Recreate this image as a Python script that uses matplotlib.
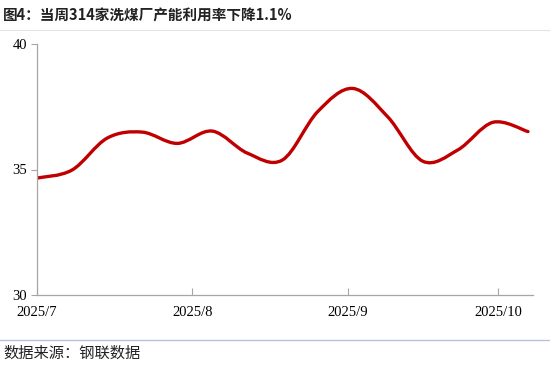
import datetime as dt

import matplotlib.dates as mdates
import numpy as np
from matplotlib import pyplot as plt
from matplotlib.patches import PathPatch
from matplotlib.path import Path
from matplotlib.ticker import FuncFormatter

title = "图4：当周314家洗煤厂产能利用率下降1.1%"
source = "数据来源：钢联数据"

start_date = dt.date(2025, 7, 1)
week_dates = [start_date + dt.timedelta(days=7 * i) for i in range(15)]
utilization = [34.66, 34.98, 36.25, 36.49, 36.04, 36.53, 35.65, 35.38,
               37.30, 38.23, 37.10, 35.33, 35.78, 36.88, 36.51]

y_ticks = [30, 35, 40]
line_color = "#c00000"
axis_color = "#a6a6a6"


def smooth_path(xs, ys):
    # Excel-style smoothed line: cubic Bezier segments through every point
    pts = np.column_stack([xs, ys])
    padded = np.vstack([pts[0], pts, pts[-1]])
    verts = [pts[0]]
    codes = [Path.MOVETO]
    for i in range(1, len(padded) - 2):
        p0, p1, p2, p3 = padded[i - 1], padded[i], padded[i + 1], padded[i + 2]
        verts += [p1 + (p2 - p0) / 6, p2 - (p3 - p1) / 6, p2]
        codes += [Path.CURVE4] * 3
    return Path(verts, codes)


def run():
    plt.rcParams["font.family"] = ["Noto Sans CJK SC", "DejaVu Sans"]

    fig = plt.figure(figsize=(5.5, 3.66), dpi=100)
    ax = fig.add_axes([37 / 550, 1 - 295 / 366, (533 - 37) / 550, (295 - 44) / 366])

    x = mdates.date2num(week_dates)
    ax.add_patch(PathPatch(smooth_path(x, utilization), fill=False,
                           edgecolor=line_color, linewidth=2.4,
                           capstyle="round", joinstyle="round"))

    ax.set_xlim(mdates.date2num(dt.date(2025, 7, 1)), mdates.date2num(dt.date(2025, 10, 8)))
    ax.set_ylim(30, 40)
    ax.set_yticks(y_ticks)
    ax.xaxis.set_major_locator(mdates.MonthLocator())
    ax.xaxis.set_major_formatter(FuncFormatter(
        lambda v, _: f"{mdates.num2date(v).year}/{mdates.num2date(v).month}"))

    for side in ["top", "right"]:
        ax.spines[side].set_visible(False)
    for side in ["left", "bottom"]:
        ax.spines[side].set_color(axis_color)
        ax.spines[side].set_linewidth(0.9)

    ax.tick_params(axis="x", direction="in", length=5, color=axis_color, pad=8)
    ax.tick_params(axis="y", direction="out", length=4, color=axis_color, pad=3)
    for label in ax.get_xticklabels() + ax.get_yticklabels():
        label.set_fontfamily("Liberation Serif")
        label.set_fontsize(10.5)

    fig.text(3 / 550, 1 - 16 / 366, title, fontsize=10.5, fontweight="bold",
             va="center", ha="left", color="#222222")
    fig.add_artist(plt.Line2D([0, 1], [1 - 30 / 366] * 2, color="#dfe3ea", linewidth=0.8))
    fig.add_artist(plt.Line2D([0, 1], [1 - 340 / 366] * 2, color="#b4c3dc", linewidth=1.0))
    fig.text(3 / 550, 1 - 353 / 366, source, fontsize=11, va="center", ha="left",
             color="#222222")

    fig.savefig("out.png", dpi=100)


if __name__ == "__main__":
    run()
